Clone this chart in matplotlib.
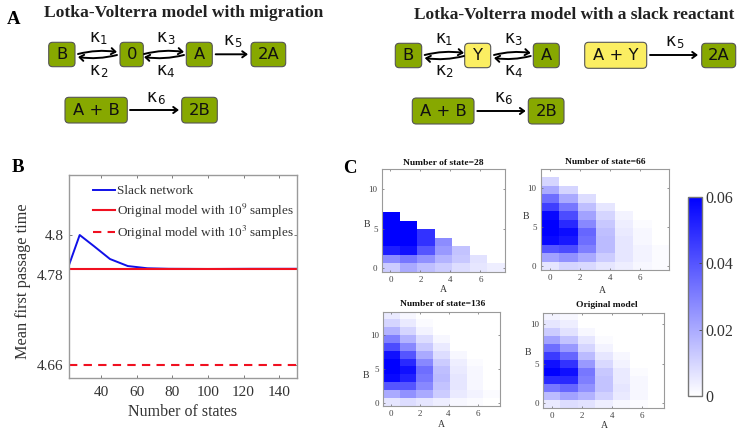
import numpy as np
import matplotlib
matplotlib.use("Agg")
import matplotlib.pyplot as plt
from matplotlib.colors import LinearSegmentedColormap
from matplotlib.patches import FancyBboxPatch, FancyArrowPatch
from matplotlib.transforms import ScaledTranslation

plt.rcParams['mathtext.fontset'] = 'stix'

W, H = 748, 436

# panel B
states = [22, 28, 36, 45, 55, 66, 78, 100, 125, 150]
slack_mfpt = [4.7825, 4.8, 4.7935, 4.786, 4.7819, 4.7806, 4.7803, 4.7802, 4.7803, 4.7803]
orig_1e9 = 4.78
orig_1e3 = 4.66
b_xticks = [40, 60, 80, 100, 120, 140]
b_yticks = [4.66, 4.78, 4.8]

# panel C, rows go from B=0 upward, columns from A=0
grid_28 = [
    [.012, .020, .015, .012, .008, .006, .004],
    [.027, .032, .026, .018, .013, .007, 0],
    [.053, .056, .040, .024, .014, 0, 0],
    [.060, .060, .048, .027, 0, 0, 0],
    [.060, .060, .048, 0, 0, 0, 0],
    [.060, .060, 0, 0, 0, 0, 0],
    [.060, 0, 0, 0, 0, 0, 0],
    [0, 0, 0, 0, 0, 0, 0],
    [0, 0, 0, 0, 0, 0, 0],
    [0, 0, 0, 0, 0, 0, 0],
    [0, 0, 0, 0, 0, 0, 0],
    [0, 0, 0, 0, 0, 0, 0],
]
grid_66 = [
    [.006, .010, .009, .006, .004, .002, .001],
    [.022, .026, .020, .012, .006, .003, .001],
    [.040, .042, .030, .016, .006, .003, .001],
    [.058, .054, .034, .016, .006, .002, 0],
    [.060, .057, .036, .015, .005, .002, 0],
    [.060, .050, .028, .013, .004, .001, 0],
    [.058, .042, .022, .010, .003, 0, 0],
    [.045, .032, .015, .006, 0, 0, 0],
    [.034, .020, .008, 0, 0, 0, 0],
    [.020, .010, 0, 0, 0, 0, 0],
    [.010, 0, 0, 0, 0, 0, 0],
    [0, 0, 0, 0, 0, 0, 0],
]
grid_136 = [
    [.006, .008, .006, .004, .002, .001, 0],
    [.020, .026, .020, .012, .005, .003, .001],
    [.040, .040, .028, .014, .006, .002, 0],
    [.058, .052, .032, .016, .006, .002, 0],
    [.060, .056, .034, .015, .005, .002, 0],
    [.060, .050, .028, .012, .004, .001, 0],
    [.056, .040, .020, .008, .002, 0, 0],
    [.042, .028, .013, .005, 0, 0, 0],
    [.030, .018, .008, .002, 0, 0, 0],
    [.018, .010, .003, 0, 0, 0, 0],
    [.010, .005, .001, 0, 0, 0, 0],
    [.005, .002, 0, 0, 0, 0, 0],
]
grid_orig = [
    [.005, .008, .007, .004, .002, .001, 0],
    [.016, .022, .018, .011, .005, .002, 0],
    [.032, .036, .026, .014, .006, .002, 0],
    [.050, .050, .030, .014, .005, .002, 0],
    [.060, .056, .032, .013, .005, .001, 0],
    [.056, .048, .024, .009, .003, 0, 0],
    [.046, .036, .016, .006, .002, 0, 0],
    [.034, .024, .010, .003, 0, 0, 0],
    [.022, .014, .006, .001, 0, 0, 0],
    [.012, .007, .002, 0, 0, 0, 0],
    [.006, .004, 0, 0, 0, 0, 0],
    [.003, .002, 0, 0, 0, 0, 0],
]
heat_titles = ["Number of state=28", "Number of state=66", "Number of state=136", "Original model"]
cbar_ticks = [0, 0.02, 0.04, 0.06]
cbar_labels = ["0", "0.02", "0.04", "0.06"]

GREEN = "#87a800"
YELLOW = "#fbee62"
GRAY = "#9a9a9a"
SERIF = "Liberation Serif"


def px_axes(fig, left, top, right, bottom, **kw):
    return fig.add_axes([left / W, 1 - bottom / H, (right - left) / W, (bottom - top) / H], **kw)


fig = plt.figure(figsize=(W / 100, H / 100), dpi=100)

# diagrams are drawn on an overlay in pixel coordinates
ov = fig.add_axes([0, 0, 1, 1])
ov.set_xlim(0, W)
ov.set_ylim(H, 0)
ov.axis("off")


def box(x0, x1, y0, y1, label, color=GREEN):
    ov.add_patch(FancyBboxPatch((x0 + 3, y0 + 3), x1 - x0 - 6, y1 - y0 - 6,
                                boxstyle="round,pad=3,rounding_size=4",
                                fc=color, ec="#555555", lw=0.8))
    ov.text((x0 + x1) / 2, (y0 + y1) / 2, label, ha="center", va="center", fontsize=11.8,
            color="#111111", family="DejaVu Sans")


def arrow(x0, x1, y):
    ov.add_patch(FancyArrowPatch((x0, y), (x1, y), arrowstyle="->,head_length=3,head_width=2.2",
                                 lw=1.4, color="black", shrinkA=0, shrinkB=0))


def rev_arrow(x0, x1, y):
    # y axis of the overlay is flipped but arc3 bends in display space
    ov.add_patch(FancyArrowPatch((x0, y + 1), (x1, y - 1), arrowstyle="->,head_length=3,head_width=2.2",
                                 connectionstyle="arc3,rad=-0.1", lw=1.4, color="black", shrinkA=0, shrinkB=0))
    ov.add_patch(FancyArrowPatch((x1, y + 2), (x0, y + 4), arrowstyle="->,head_length=3,head_width=2.2",
                                 connectionstyle="arc3,rad=-0.1", lw=1.4, color="black", shrinkA=0, shrinkB=0))


def kappa(x, y, n):
    ov.text(x - 3, y, "\u03ba", ha="center", va="center", fontsize=12.5, color="#111111", family="DejaVu Sans")
    ov.text(x + 5.5, y + 3.5, str(n), ha="center", va="center", fontsize=8.5, color="#111111", family="DejaVu Sans")


# left network
box(48.7, 75, 42.3, 66.7, "B")
box(120, 143.3, 42.3, 66.7, "0")
box(186.3, 212.3, 42.3, 66.7, "A")
box(251, 285.7, 42.3, 66.7, "2A")
box(65, 127.3, 97.3, 123, "A + B")
box(181.7, 217.3, 97.3, 123, "2B")
rev_arrow(78, 117, 53)
rev_arrow(144, 184, 53)
arrow(215.7, 248, 54.3)
arrow(130, 179, 110)
for x, y, n in [(98, 37, 1), (98, 70, 2), (165, 37, 3), (165, 70, 4), (232, 40, 5), (155, 97, 6)]:
    kappa(x, y, n)

# right network
box(395.3, 421.7, 43.3, 67.7, "B")
box(464.7, 490.7, 43.3, 67.7, "Y", YELLOW)
box(533.3, 559.3, 43.3, 67.7, "A")
box(584.7, 646.7, 42.3, 68.3, "A + Y", YELLOW)
box(701.7, 735.7, 43.3, 67.7, "2A")
box(412.3, 474, 98, 124, "A + B")
box(528.3, 564, 98, 124, "2B")
rev_arrow(424.7, 464, 54)
rev_arrow(494, 530.7, 54)
arrow(650, 698, 55)
arrow(477.3, 525.7, 111)
for x, y, n in [(443.3, 38, 1), (443.3, 70, 2), (512.3, 38, 3), (512.3, 70, 4), (674, 41, 5), (502.3, 97, 6)]:
    kappa(x, y, n)

ov.text(184, 12.7, "Lotka-Volterra model with migration", ha="center", va="center",
        family=SERIF, weight="bold", fontsize=12.6, color="#222222")
ov.text(574, 15, "Lotka-Volterra model with a slack reactant", ha="center", va="center",
        family=SERIF, weight="bold", fontsize=12.5, color="#222222")
ov.text(13.5, 20, "A", ha="center", va="center", family=SERIF, weight="bold", fontsize=13.5, color="black")
ov.text(18, 167.5, "B", ha="center", va="center", family=SERIF, weight="bold", fontsize=13.5, color="black")
ov.text(350, 168, "C", ha="center", va="center", family=SERIF, weight="bold", fontsize=13.5, color="black")

# panel B, the y axis is stretched differently above and below 4.78
val_anchor = [4.64, 4.66, 4.78, 4.80, 4.83]
pos_anchor = [0, 13, 108.7, 143, 203]
axb = px_axes(fig, 69, 175, 297, 378)
axb.set_yscale("function", functions=(lambda v: np.interp(v, val_anchor, pos_anchor),
                                      lambda p: np.interp(p, pos_anchor, val_anchor)))
axb.plot(states, slack_mfpt, color="#1010e8", lw=1.4, label="Slack network")
axb.axhline(orig_1e9, color="#f01020", lw=1.5, label="Original model with 10$^9$ samples")
axb.axhline(orig_1e3, color="#f01020", lw=1.5, ls=(0, (4, 3)), label="Original model with 10$^3$ samples")
axb.set_xlim(22, 150)
axb.set_ylim(4.64, 4.83)
axb.set_xticks(b_xticks)
axb.set_yticks(b_yticks)
axb.set_yticklabels(["4.66", "4.78", "4.8"])
axb.minorticks_off()
axb.tick_params(direction="in", length=2, width=0.6, color="#666666", labelcolor="#333333",
                labelsize=11, pad=4, top=True, right=True)
axb.tick_params(axis="x", pad=6)
for lab in axb.get_yticklabels() + axb.get_xticklabels():
    lab.set_family(SERIF)
axb.get_yticklabels()[1].set_transform(axb.get_yticklabels()[1].get_transform()
                                       + ScaledTranslation(0, -4 / 72, fig.dpi_scale_trans))
for s in axb.spines.values():
    s.set_color(GRAY)
    s.set_linewidth(1)
axb.set_xlabel("Number of states", family=SERIF, fontsize=11.5, color="#333333", labelpad=3)
axb.set_ylabel("Mean first passage time", family=SERIF, fontsize=11.7, color="#333333", labelpad=4)
axb.yaxis.label.set_y(0.478)
leg = axb.legend(loc="upper left", bbox_to_anchor=(0.105, 0.95), frameon=False, handlelength=1.7,
                 handletextpad=0.15, labelspacing=0.32, borderpad=0, borderaxespad=0,
                 prop={"family": SERIF, "size": 9.5})
for t in leg.get_texts():
    t.set_color("#333333")

# panel C
cmap = LinearSegmentedColormap.from_list("wb", ["#ffffff", "#0000ff"])
heat_grids = [grid_28, grid_66, grid_136, grid_orig]
heat_boxes = [(381.7, 169.3, 504.7, 271.7), (540.7, 169.3, 669.3, 270),
              (383.3, 311.7, 499.7, 406.3), (543, 312.7, 664.3, 408)]
heat_extents = [(-0.58, 7.62, -0.5, 12.55), (-0.62, 7.96, -0.47, 12.4),
                (-0.51, 7.53, -0.44, 13.4), (-0.6, 7.5, -0.63, 11.45)]
title_pos = [(443, 162.7), (605.5, 162), (443, 303.5), (607, 304.5)]
bpos = [(366.7, 224), (525.7, 216), (365.7, 375), (528, 352)]
apos = [(443, 289), (602, 290), (441.7, 424), (604, 425.7)]

for grid, bx, ext, ttl, tp, bp, ap in zip(heat_grids, heat_boxes, heat_extents, heat_titles,
                                          title_pos, bpos, apos):
    ax = px_axes(fig, *bx)
    im = ax.imshow(np.array(grid), origin="lower", aspect="auto", extent=ext, cmap=cmap,
                   vmin=0, vmax=0.06, interpolation="nearest")
    ax.set_xticks([0, 2, 4, 6])
    ax.set_yticks([0, 5, 10])
    ax.tick_params(direction="in", length=1.5, width=0.5, color="#666666", labelcolor="#444444",
                   labelsize=6.5, pad=3, top=True, right=True)
    for lab in ax.get_xticklabels() + ax.get_yticklabels():
        lab.set_family(SERIF)
    for s in ax.spines.values():
        s.set_color(GRAY)
        s.set_linewidth(0.8)
    ov.text(tp[0], tp[1], ttl, ha="center", va="center", family=SERIF, weight="bold", fontsize=6.8,
            color="#111111")
    ov.text(bp[0], bp[1], "B", ha="center", va="center", family=SERIF, fontsize=7, color="#333333")
    ov.text(ap[0], ap[1], "A", ha="center", va="center", family=SERIF, fontsize=7, color="#333333")

cax = px_axes(fig, 688, 197, 702.3, 396)
cb = fig.colorbar(im, cax=cax)
cb.set_ticks(cbar_ticks)
cb.set_ticklabels(cbar_labels)
cb.ax.tick_params(direction="in", length=2, width=0.6, color="#444444", labelcolor="#333333",
                  labelsize=11.5, pad=2.5)
for lab in cb.ax.get_yticklabels():
    lab.set_family(SERIF)
cb.outline.set_edgecolor("#777777")
cb.outline.set_linewidth(1)

fig.savefig("out.png", dpi=100)
